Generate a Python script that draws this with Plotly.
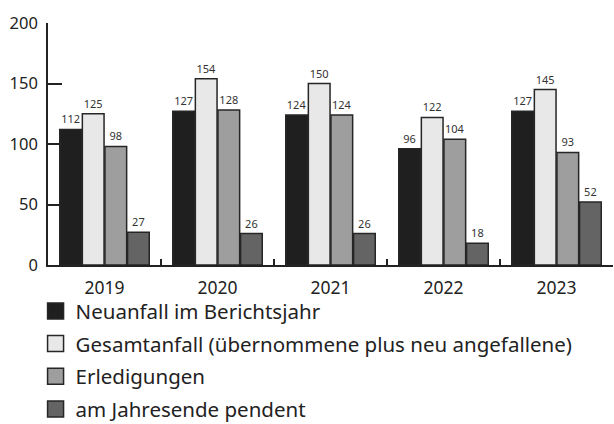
import plotly.graph_objects as go

years = ["2019", "2020", "2021", "2022", "2023"]
neuanfall = [112, 127, 124, 96, 127]
gesamtanfall = [125, 154, 150, 122, 145]
erledigungen = [98, 128, 124, 104, 93]
pendent = [27, 26, 26, 18, 52]

series = [
    ("Neuanfall im Berichtsjahr", neuanfall, "#1f1f1f"),
    ("Gesamtanfall (übernommene plus neu angefallene)", gesamtanfall, "#e8e8e8"),
    ("Erledigungen", erledigungen, "#9e9e9e"),
    ("am Jahresende pendent", pendent, "#646464"),
]

FONT = "Noto Sans"
EDGE = "#262626"

fig = go.Figure()
for i, (name, vals, col) in enumerate(series):
    fig.add_trace(go.Bar(
        x=years, y=vals, name=name, showlegend=False,
        marker=dict(color=col, line=dict(color=EDGE, width=1.5)),
        text=[str(v) for v in vals], textposition="outside",
        textfont=dict(size=11, color="#333333", family=FONT),
        cliponaxis=False, hoverinfo="skip",
    ))
# legend-only entries with larger square symbols
for i, (name, vals, col) in enumerate(series):
    fig.add_trace(go.Scatter(
        x=[None], y=[None], mode="markers", name=name,
        marker=dict(symbol="square", size=16, color=col, line=dict(color=EDGE, width=1.5)),
        legendgroup=f"g{i}", showlegend=True,
    ))

fig.update_layout(
    width=614, height=424,
    margin=dict(l=48, r=1, t=23, b=159, autoexpand=False),
    paper_bgcolor="white", plot_bgcolor="white",
    barmode="group", bargap=0.2, bargroupgap=0.04,
    font=dict(family=FONT, color="#222222"),
    showlegend=True,
    legend=dict(
        orientation="v", x=-0.022, xanchor="left", y=-0.108, yanchor="top",
        font=dict(size=20.5, family=FONT, color="#222222"),
        tracegroupgap=3, traceorder="grouped", itemsizing="trace",
        itemwidth=30,
        bgcolor="rgba(0,0,0,0)",
    ),
)
fig.update_yaxes(
    range=[0, 200], tickvals=[0, 50, 100, 150, 200],
    ticks="inside", ticklen=14, tickwidth=1.5, tickcolor="#222222",
    showline=True, linecolor="#222222", linewidth=1.5,
    showgrid=False, zeroline=False, automargin=False,
    ticklabelstandoff=5,
    tickfont=dict(size=16.5, family=FONT, color="#222222"),
)
fig.update_xaxes(
    ticks="inside", tickson="boundaries", ticklen=6, tickwidth=1.5, tickcolor="#222222",
    showline=True, linecolor="#222222", linewidth=1.5,
    showgrid=False, automargin=False,
    ticklabelstandoff=6,
    tickfont=dict(size=17.5, family=FONT, color="#222222"),
)

fig.write_html("out.html", config={"displayModeBar": False},
               post_script="document.body.style.margin='0';")
